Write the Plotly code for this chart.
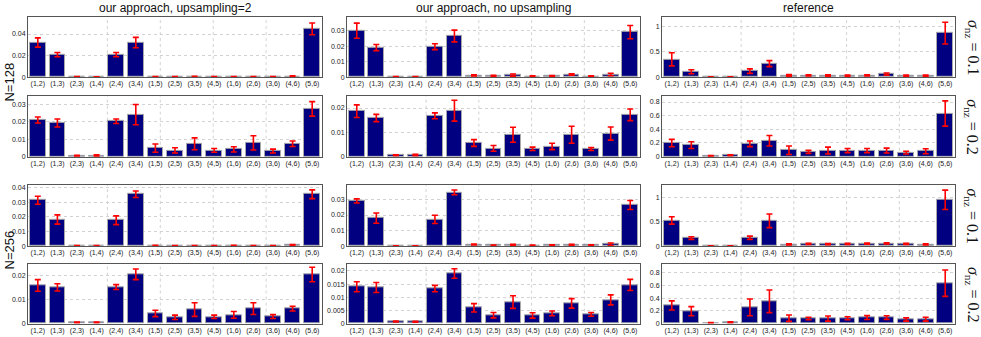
import plotly.graph_objects as go

W, H = 981, 337

pairs = ["(1,2)", "(1,3)", "(2,3)", "(1,4)", "(2,4)", "(3,4)", "(1,5)", "(2,5)",
         "(3,5)", "(4,5)", "(1,6)", "(2,6)", "(3,6)", "(4,6)", "(5,6)"]

col_titles = ["our approach, upsampling=2", "our approach, no upsampling", "reference"]
row_n_labels = ["N=128", "N=256"]
sigma_labels = ["0.1", "0.2", "0.1", "0.2"]

# our approach, upsampling=2
up2_n128_s01 = [0.0321, 0.0209, 0.0001, 0.0001, 0.0209, 0.0321, 0.0002, 0.0002, 0.0004, 0.0002, 0.0002, 0.0003, 0.0002, 0.0007, 0.0448]
up2_n128_s01_err = [0.0043, 0.002, 0.0003, 0.0002, 0.002, 0.0048, 0.0002, 0.0002, 0.0004, 0.0002, 0.0002, 0.0003, 0.0002, 0.0004, 0.0055]
up2_n128_s02 = [0.0211, 0.0194, 0.0005, 0.0007, 0.0204, 0.0242, 0.0049, 0.0036, 0.0074, 0.0036, 0.0042, 0.0079, 0.0032, 0.0074, 0.0275]
up2_n128_s02_err = [0.0017, 0.0023, 0.0003, 0.0004, 0.0013, 0.0058, 0.0024, 0.0015, 0.0034, 0.0011, 0.0015, 0.0041, 0.0011, 0.0016, 0.0042]
up2_n256_s01 = [0.0314, 0.0182, 0.0001, 0.0001, 0.0177, 0.0355, 0.0003, 0.0002, 0.0002, 0.0002, 0.0003, 0.0002, 0.0002, 0.0007, 0.0355]
up2_n256_s01_err = [0.0027, 0.0032, 0.0002, 0.0002, 0.003, 0.0022, 0.0002, 0.0002, 0.0002, 0.0002, 0.0002, 0.0002, 0.0002, 0.0003, 0.003]
up2_n256_s02 = [0.0158, 0.015, 0.0005, 0.0005, 0.0151, 0.0204, 0.0042, 0.0026, 0.0058, 0.0028, 0.0036, 0.0062, 0.0029, 0.0062, 0.0203]
up2_n256_s02_err = [0.0024, 0.0015, 0.0002, 0.0002, 0.001, 0.0022, 0.0013, 0.0009, 0.0028, 0.0007, 0.0014, 0.0024, 0.0008, 0.001, 0.003]

# our approach, no upsampling
noup_n128_s01 = [0.030, 0.0191, 0.0001, 0.0001, 0.0197, 0.0266, 0.0011, 0.0008, 0.0013, 0.0005, 0.0007, 0.0017, 0.0005, 0.0017, 0.0291]
noup_n128_s01_err = [0.0049, 0.002, 0.0002, 0.0002, 0.0019, 0.0038, 0.0003, 0.0003, 0.0007, 0.0003, 0.0003, 0.0004, 0.0003, 0.0008, 0.0043]
noup_n128_s02 = [0.0187, 0.0159, 0.0006, 0.0007, 0.0168, 0.0189, 0.0056, 0.0034, 0.009, 0.0032, 0.0042, 0.009, 0.0031, 0.0095, 0.0172]
noup_n128_s02_err = [0.0026, 0.0015, 0.0002, 0.0003, 0.0012, 0.0043, 0.0014, 0.0012, 0.0031, 0.0007, 0.0013, 0.0035, 0.0006, 0.0027, 0.0024]
noup_n256_s01 = [0.0291, 0.018, 0.0001, 0.0001, 0.0172, 0.0346, 0.001, 0.0005, 0.0008, 0.0004, 0.0006, 0.0009, 0.0006, 0.0012, 0.0265]
noup_n256_s01_err = [0.0013, 0.0033, 0.0001, 0.0001, 0.0027, 0.0015, 0.0003, 0.0002, 0.0003, 0.0002, 0.0002, 0.0003, 0.0002, 0.0008, 0.0029]
noup_n256_s02 = [0.014, 0.0137, 0.0008, 0.0007, 0.0133, 0.019, 0.006, 0.0032, 0.0082, 0.0031, 0.0039, 0.0077, 0.0035, 0.009, 0.0147]
noup_n256_s02_err = [0.0019, 0.0019, 0.0002, 0.0002, 0.0012, 0.0018, 0.0016, 0.001, 0.0024, 0.001, 0.0009, 0.0018, 0.0007, 0.0019, 0.0021]

# reference
ref_n128_s01 = [0.353, 0.105, 0.002, 0.002, 0.118, 0.268, 0.033, 0.035, 0.03, 0.03, 0.035, 0.06, 0.03, 0.03, 0.876]
ref_n128_s01_err = [0.13, 0.04, 0.005, 0.005, 0.045, 0.06, 0.015, 0.01, 0.015, 0.01, 0.01, 0.02, 0.01, 0.01, 0.216]
ref_n128_s02 = [0.198, 0.168, 0.01, 0.02, 0.188, 0.232, 0.094, 0.069, 0.089, 0.089, 0.089, 0.089, 0.059, 0.079, 0.632]
ref_n128_s02_err = [0.054, 0.05, 0.005, 0.006, 0.042, 0.077, 0.062, 0.022, 0.05, 0.03, 0.03, 0.035, 0.02, 0.037, 0.185]
ref_n256_s01 = [0.531, 0.166, 0.002, 0.002, 0.172, 0.524, 0.035, 0.045, 0.04, 0.045, 0.05, 0.055, 0.045, 0.035, 0.959]
ref_n256_s01_err = [0.076, 0.028, 0.004, 0.004, 0.034, 0.141, 0.01, 0.012, 0.01, 0.012, 0.012, 0.012, 0.01, 0.01, 0.2]
ref_n256_s02 = [0.285, 0.195, 0.01, 0.02, 0.255, 0.35, 0.085, 0.08, 0.08, 0.085, 0.095, 0.095, 0.065, 0.07, 0.635]
ref_n256_s02_err = [0.072, 0.072, 0.006, 0.008, 0.132, 0.177, 0.05, 0.02, 0.04, 0.023, 0.03, 0.028, 0.025, 0.03, 0.207]

panels = [
    [(up2_n128_s01, up2_n128_s01_err), (noup_n128_s01, noup_n128_s01_err), (ref_n128_s01, ref_n128_s01_err)],
    [(up2_n128_s02, up2_n128_s02_err), (noup_n128_s02, noup_n128_s02_err), (ref_n128_s02, ref_n128_s02_err)],
    [(up2_n256_s01, up2_n256_s01_err), (noup_n256_s01, noup_n256_s01_err), (ref_n256_s01, ref_n256_s01_err)],
    [(up2_n256_s02, up2_n256_s02_err), (noup_n256_s02, noup_n256_s02_err), (ref_n256_s02, ref_n256_s02_err)],
]

y_max = [
    [0.056, 0.039, 1.2],
    [0.035, 0.025, 0.89],
    [0.042, 0.0395, 1.27],
    [0.0245, 0.0225, 0.93],
]
y_dtick = [
    [0.02, 0.01, 0.5],
    [0.01, 0.01, 0.2],
    [0.01, 0.01, 0.5],
    [0.01, 0.005, 0.2],
]

# layout in pixels
col_px = [(28, 322), (347, 640), (662, 955)]
row_px = [(16, 77), (96, 157.5), (186, 248), (266.5, 326.5)]
vgrid = [0.27, 0.45, 0.63, 0.81]

xs = list(range(1, len(pairs) + 1))

fig = go.Figure()
layout = {}
shapes = []

for r in range(4):
    for c in range(3):
        k = r * 3 + c + 1
        sfx = "" if k == 1 else str(k)
        vals, errs = panels[r][c]
        fig.add_trace(go.Bar(
            x=xs, y=vals,
            width=0.8,
            marker=dict(color="#000080", line=dict(color="#a8a8a8", width=1)),
            error_y=dict(type="data", array=errs, color="#ff0000", thickness=1.6, width=3),
            xaxis="x" + sfx, yaxis="y" + sfx,
            showlegend=False,
        ))
        x0, x1 = col_px[c]
        y0, y1 = row_px[r]
        layout["xaxis" + sfx] = dict(
            domain=[x0 / W, x1 / W], anchor="y" + sfx,
            range=[0.5, len(pairs) + 0.5],
            tickvals=xs, ticktext=pairs,
            tickfont=dict(size=7, color="#222"),
            showgrid=False, zeroline=False,
            showline=True, mirror=True, linecolor="#555", linewidth=1,
            ticks="", fixedrange=True,
        )
        layout["yaxis" + sfx] = dict(
            domain=[1 - y1 / H, 1 - y0 / H], anchor="x" + sfx,
            range=[0, y_max[r][c]], dtick=y_dtick[r][c], tick0=0,
            tickfont=dict(size=7, color="#222"),
            showgrid=True, gridcolor="#d2d2d2", griddash="dot", gridwidth=1,
            zeroline=False,
            showline=True, mirror=True, linecolor="#555", linewidth=1,
            ticks="", fixedrange=True,
        )
        for gx in vgrid:
            shapes.append(dict(
                type="line", xref="x" + sfx + " domain", yref="y" + sfx + " domain",
                x0=gx, x1=gx, y0=0, y1=1, layer="below",
                line=dict(color="#d2d2d2", width=1, dash="dot"),
            ))

annotations = []
for c, t in enumerate(col_titles):
    annotations.append(dict(
        text=t, x=(col_px[c][0] + col_px[c][1]) / 2 / W, y=1 - 7 / H,
        xref="paper", yref="paper", showarrow=False,
        font=dict(size=12, color="#111"), xanchor="center", yanchor="middle",
    ))

for i, lbl in enumerate(row_n_labels):
    yc = 82 if i == 0 else 252
    annotations.append(dict(
        text=lbl, x=0, y=1 - yc / H, xref="paper", yref="paper",
        showarrow=False, textangle=-90, font=dict(size=13, color="#111"),
        xanchor="left", yanchor="middle",
    ))

for r, s in enumerate(sigma_labels):
    yc = (row_px[r][0] + row_px[r][1]) / 2
    annotations.append(dict(
        text="<i>σ</i><sub>nz</sub> = " + s, x=972 / W, y=1 - yc / H,
        xref="paper", yref="paper", showarrow=False, textangle=90,
        font=dict(size=16, color="#111", family="Liberation Serif"),
        xanchor="center", yanchor="middle",
    ))

fig.update_layout(
    **layout,
    shapes=shapes,
    annotations=annotations,
    width=W, height=H,
    margin=dict(l=0, r=0, t=0, b=0),
    paper_bgcolor="white", plot_bgcolor="white",
    font=dict(family="Liberation Sans"),
    bargap=0,
)

# drop the page's default body margin so the figure sits at the window's corner
fig.write_html(
    "out.html",
    config={"displayModeBar": False},
    post_script="document.body.style.margin='0';document.body.style.overflow='hidden';",
)
